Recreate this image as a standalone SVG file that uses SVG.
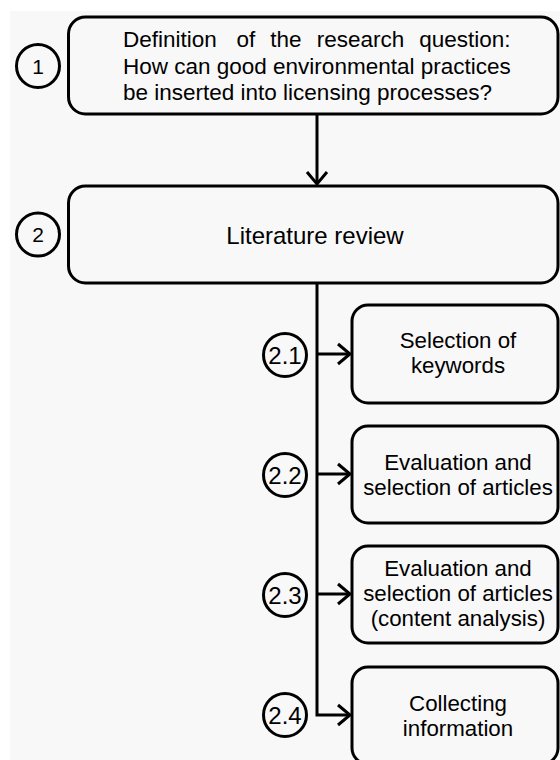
<svg xmlns="http://www.w3.org/2000/svg" width="560" height="760" viewBox="0 0 560 760">
<style>
.box{fill:none;stroke:#000;stroke-width:3}
.num{fill:none;stroke:#000;stroke-width:3}
.conn{fill:none;stroke:#000;stroke-width:3}
text{font-family:"Liberation Sans",Arial,sans-serif;fill:#000}
.t{font-size:22.3px;text-anchor:middle}
.t1{font-size:22.5px}
.t2{font-size:24px;text-anchor:middle}
.n{font-size:21px;text-anchor:middle}
.n2{font-size:24px;text-anchor:middle}
</style>
<defs>
<marker id="arr" markerUnits="userSpaceOnUse" markerWidth="20" markerHeight="26" refX="15" refY="13" orient="auto">
<path d="M3,3 L15,13 L3,23" fill="none" stroke="#000" stroke-width="3" stroke-linejoin="miter"/>
</marker>
</defs>
<rect x="0" y="0" width="560" height="760" fill="#ffffff"/>
<rect x="10" y="11" width="550" height="749" fill="#f8f8f8"/>

<g id="connectors">
<line class="conn" x1="317" y1="114" x2="317" y2="184" marker-end="url(#arr)"/>
<path class="conn" d="M317,283 V715 H350" marker-end="url(#arr)"/>
<line class="conn" x1="317" y1="354" x2="350" y2="354" marker-end="url(#arr)"/>
<line class="conn" x1="317" y1="474" x2="350" y2="474" marker-end="url(#arr)"/>
<line class="conn" x1="317" y1="594" x2="350" y2="594" marker-end="url(#arr)"/>
</g>

<g id="step1">
<circle class="num" cx="38" cy="66" r="21.5"/>
<text class="n" x="38" y="73.5">1</text>
<rect class="box" x="68.5" y="17" width="489.5" height="97" rx="17"/>
<text class="t1"><tspan x="123" y="47">Definition</tspan><tspan x="236.4" y="47">of</tspan><tspan x="270.3" y="47">the</tspan><tspan x="316.7" y="47">research</tspan><tspan x="419.3" y="47">question:</tspan><tspan x="123" y="73.5">How can good environmental practices</tspan><tspan x="123" y="100">be inserted into licensing processes?</tspan></text>
</g>

<g id="step2">
<circle class="num" cx="38" cy="234.5" r="21.5"/>
<text class="n" x="38" y="242">2</text>
<rect class="box" x="68.5" y="186" width="489.5" height="97" rx="17"/>
<text class="t2" x="315" y="243.5">Literature review</text>
</g>

<g id="step2-1">
<circle class="num" cx="285" cy="355" r="21.5"/>
<text class="n2" x="285" y="363.5">2.1</text>
<rect class="box" x="352" y="305" width="206" height="98" rx="16"/>
<text class="t"><tspan x="458" y="348">Selection of</tspan><tspan x="458" y="373">keywords</tspan></text>
</g>

<g id="step2-2">
<circle class="num" cx="285" cy="475" r="21.5"/>
<text class="n2" x="285" y="483.5">2.2</text>
<rect class="box" x="352" y="426" width="206" height="97" rx="16"/>
<text class="t"><tspan x="458" y="469.5">Evaluation and</tspan><tspan x="458" y="494.5">selection of articles</tspan></text>
</g>

<g id="step2-3">
<circle class="num" cx="285" cy="595" r="21.5"/>
<text class="n2" x="285" y="603.5">2.3</text>
<rect class="box" x="352" y="546" width="206" height="97" rx="16"/>
<text class="t"><tspan x="458" y="576">Evaluation and</tspan><tspan x="458" y="601">selection of articles</tspan><tspan x="458" y="626">(content analysis)</tspan></text>
</g>

<g id="step2-4">
<circle class="num" cx="285" cy="715" r="21.5"/>
<text class="n2" x="285" y="723.5">2.4</text>
<rect class="box" x="352" y="667" width="206" height="97" rx="16"/>
<text class="t"><tspan x="458" y="711">Collecting</tspan><tspan x="458" y="736">information</tspan></text>
</g>
</svg>
